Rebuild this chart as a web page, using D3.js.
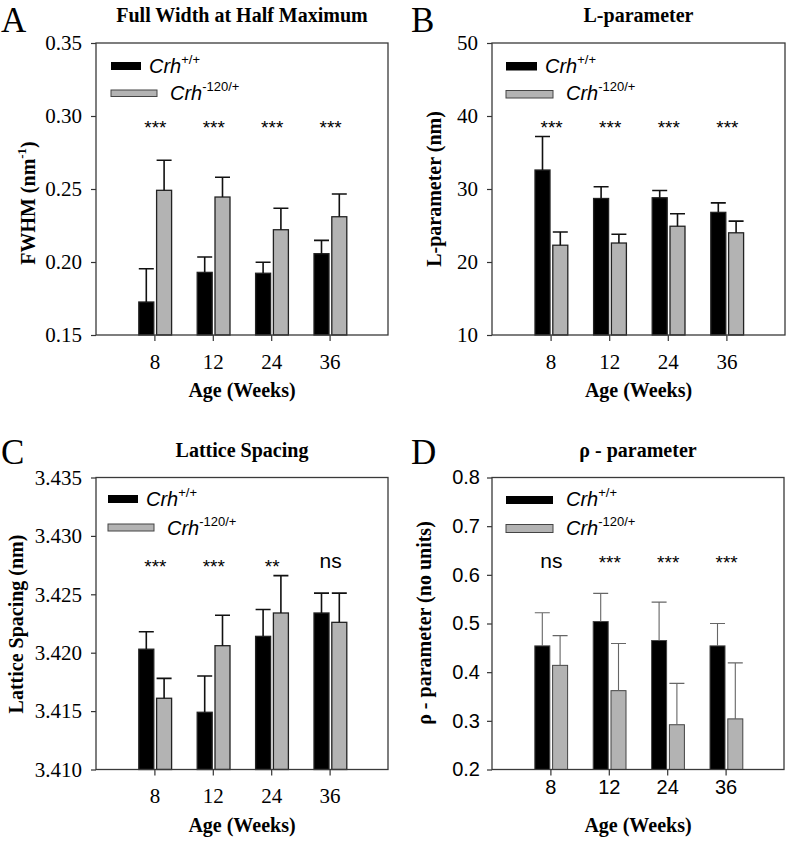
<!DOCTYPE html>
<html>
<head>
<meta charset="utf-8">
<script src="https://d3js.org/d3.v7.min.js"></script>
<style>
body { margin: 0; background: #fff; }
</style>
</head>
<body>
<svg id="fig" width="787" height="842"></svg>
<script>
// ages on the x axis (weeks)
var ages = ['8', '12', '24', '36'];

// A - FWHM (nm^-1), mean and SE
var fwhmWt = [0.1726, 0.1929, 0.1923, 0.2057];
var fwhmWtErr = [0.0228, 0.0105, 0.0075, 0.0091];
var fwhmMut = [0.2491, 0.2445, 0.2221, 0.2310];
var fwhmMutErr = [0.0206, 0.0135, 0.0147, 0.0156];
var fwhmSig = ['***', '***', '***', '***'];
var fwhmTicks = [0.15, 0.20, 0.25, 0.30, 0.35];

// B - L-parameter (nm)
var lparWt = [32.6, 28.7, 28.8, 26.8];
var lparWtErr = [4.6, 1.6, 1.0, 1.3];
var lparMut = [22.3, 22.6, 24.9, 24.0];
var lparMutErr = [1.8, 1.2, 1.7, 1.6];
var lparSig = ['***', '***', '***', '***'];
var lparTicks = [10, 20, 30, 40, 50];

// C - lattice spacing (nm)
var latWt = [3.4203, 3.4149, 3.4214, 3.4234];
var latWtErr = [0.0015, 0.0031, 0.0023, 0.0017];
var latMut = [3.4161, 3.4206, 3.4234, 3.4226];
var latMutErr = [0.0017, 0.0026, 0.0032, 0.0025];
var latSig = ['***', '***', '**', 'ns'];
var latTicks = [3.410, 3.415, 3.420, 3.425, 3.430, 3.435];

// D - rho parameter (no units)
var rhoWt = [0.454, 0.504, 0.465, 0.454];
var rhoWtErr = [0.068, 0.058, 0.079, 0.046];
var rhoMut = [0.414, 0.362, 0.292, 0.304];
var rhoMutErr = [0.061, 0.097, 0.085, 0.115];
var rhoSig = ['ns', '***', '***', '***'];
var rhoTicks = [0.2, 0.3, 0.4, 0.5, 0.6, 0.7, 0.8];

var genotypes = ['+/+', '-120/+'];

var SERIF = '"Liberation Serif", "Times New Roman", serif';
var SANS = '"Liberation Sans", Arial, sans-serif';

var svg = d3.select('#fig');

function drawPanel(p) {
    var g = svg.append('g');
    var x = d3.scaleLinear().domain([0, 5]).range([p.x0, p.x1]);
    var y = d3.scaleLinear().domain([p.ticks[0], p.ticks[p.ticks.length - 1]]).range([p.y1, p.y0]);
    var barW = 15;
    var series = [
        { vals: p.wt, err: p.wtErr, fill: '#000', off: -barW - 0.6 },
        { vals: p.mut, err: p.mutErr, fill: '#b3b3b3', off: 2.2 }
    ];

    // axes
    var yAxis = g.append('g')
        .attr('transform', 'translate(' + p.x0 + ',0)')
        .call(d3.axisLeft(y).tickValues(p.ticks).tickFormat(d3.format(p.fmt)).tickSize(5).tickPadding(p.yPad));
    var xAxis = g.append('g')
        .attr('transform', 'translate(0,' + p.y1 + ')')
        .call(d3.axisBottom(x).tickValues([1, 2, 3, 4]).tickFormat(function (d) { return ages[d - 1]; }).tickSize(6).tickPadding(p.xPad));
    [yAxis, xAxis].forEach(function (a) {
        a.select('.domain').remove();
        a.selectAll('line').attr('stroke', '#333').attr('stroke-width', 1.2);
        a.selectAll('text').attr('font-family', p.tickFont).attr('font-size', p.tickSize).attr('fill', '#000');
    });

    // bars + upper error bars
    series.forEach(function (s, k) {
        g.selectAll('.bar' + k).data(s.vals).enter().append('rect')
            .attr('x', function (d, i) { return x(i + 1) + s.off; })
            .attr('y', function (d) { return y(d); })
            .attr('width', barW)
            .attr('height', function (d) { return y.range()[0] - y(d); })
            .attr('fill', s.fill)
            .attr('stroke', p.barStroke)
            .attr('stroke-width', p.barStrokeW);
        g.selectAll('.err' + k).data(s.vals).enter().append('path')
            .attr('d', function (d, i) {
                var cx = x(i + 1) + s.off + barW / 2;
                var top = y(d + s.err[i]);
                return 'M' + cx + ',' + y(d) + 'V' + top +
                    'M' + (x(i + 1) + s.off) + ',' + top + 'h' + barW;
            })
            .attr('fill', 'none')
            .attr('stroke', p.errStroke)
            .attr('stroke-width', p.errW);
    });

    // significance marks
    g.selectAll('.sig').data(p.sig).enter().append('text')
        .attr('x', function (d, i) { return x(i + 1) + 1; })
        .attr('y', function (d) { return d === 'ns' ? p.y0 + p.nsY : p.y0 + p.starY; })
        .attr('text-anchor', 'middle')
        .attr('font-family', SANS)
        .attr('font-size', function (d) { return d === 'ns' ? 21 : 19; })
        .text(function (d) { return d; });

    // frame
    g.append('rect')
        .attr('x', p.x0).attr('y', p.y0)
        .attr('width', p.x1 - p.x0).attr('height', p.y1 - p.y0)
        .attr('fill', 'none').attr('stroke', '#3a3a3a').attr('stroke-width', 1.3);

    // legend
    var lg = p.legend;
    [0, 1].forEach(function (k) {
        g.append('rect')
            .attr('x', p.x0 + lg.dx)
            .attr('y', p.y0 + lg.rectY[k])
            .attr('width', lg.w[k]).attr('height', lg.h[k])
            .attr('fill', series[k].fill)
            .attr('stroke', k ? '#444' : 'none').attr('stroke-width', 1);
        var t = g.append('text')
            .attr('x', p.x0 + lg.textX[k])
            .attr('y', p.y0 + lg.textY[k])
            .attr('font-family', SANS).attr('font-size', 20);
        t.append('tspan').attr('font-style', 'italic').text('Crh');
        t.append('tspan').attr('font-size', 13).attr('dy', -9).text(genotypes[k]);
    });

    // titles
    var midX = (p.x0 + p.x1) / 2;
    svg.append('text')
        .attr('x', midX).attr('y', p.y0 - 21)
        .attr('text-anchor', 'middle')
        .attr('font-family', SERIF).attr('font-weight', 'bold').attr('font-size', 20)
        .text(p.title);
    svg.append('text')
        .attr('x', midX).attr('y', p.y1 + 62)
        .attr('text-anchor', 'middle')
        .attr('font-family', SERIF).attr('font-weight', 'bold').attr('font-size', 20)
        .text('Age (Weeks)');
    var yl = svg.append('text')
        .attr('transform', 'translate(' + p.yLabelX + ',' + p.yLabelY + ') rotate(-90)')
        .attr('text-anchor', 'middle')
        .attr('font-family', SERIF).attr('font-weight', 'bold').attr('font-size', 20);
    p.yLabel(yl);
    svg.append('text')
        .attr('x', p.letterX).attr('y', p.letterY)
        .attr('font-family', SERIF).attr('font-size', 35)
        .text(p.letter);
}

var legendTop = { dx: 15, rectY: [19, 47], w: [30, 46], h: [8, 6.5], textX: [53, 74], textY: [30, 57] };

drawPanel({
    letter: 'A', letterX: 1, letterY: 32,
    x0: 96, x1: 388, y0: 43, y1: 335,
    ticks: fwhmTicks, fmt: '.2f',
    wt: fwhmWt, wtErr: fwhmWtErr, mut: fwhmMut, mutErr: fwhmMutErr, sig: fwhmSig,
    title: 'Full Width at Half Maximum',
    tickFont: SERIF, tickSize: 21, yPad: 9, xPad: 13,
    barStroke: '#222', barStrokeW: 1.3, errStroke: '#111', errW: 1.6,
    starY: 91, nsY: 91,
    legend: legendTop,
    yLabelX: 35, yLabelY: 203,
    yLabel: function (t) {
        t.append('tspan').text('FWHM (nm');
        t.append('tspan').attr('font-size', 13).attr('dy', -9).text('-1');
        t.append('tspan').attr('dy', 9).text(')');
    }
});

drawPanel({
    letter: 'B', letterX: 411, letterY: 32,
    x0: 492, x1: 785, y0: 43, y1: 335,
    ticks: lparTicks, fmt: 'd',
    wt: lparWt, wtErr: lparWtErr, mut: lparMut, mutErr: lparMutErr, sig: lparSig,
    title: 'L-parameter',
    tickFont: SERIF, tickSize: 21, yPad: 9, xPad: 13,
    barStroke: '#222', barStrokeW: 1.3, errStroke: '#111', errW: 1.6,
    starY: 91, nsY: 91,
    legend: { dx: 14, rectY: [19, 47.5], w: [31, 47], h: [8.5, 7.5], textX: [53, 74], textY: [30, 57] },
    yLabelX: 441, yLabelY: 189,
    yLabel: function (t) { t.text('L-parameter (nm)'); }
});

drawPanel({
    letter: 'C', letterX: 1, letterY: 464,
    x0: 96, x1: 388, y0: 477.5, y1: 769.5,
    ticks: latTicks, fmt: '.3f',
    wt: latWt, wtErr: latWtErr, mut: latMut, mutErr: latMutErr, sig: latSig,
    title: 'Lattice Spacing',
    tickFont: SERIF, tickSize: 21, yPad: 9, xPad: 13,
    barStroke: '#222', barStrokeW: 1.3, errStroke: '#111', errW: 1.6,
    starY: 95, nsY: 90,
    legend: { dx: 12, rectY: [17.5, 46.5], w: [30, 46], h: [8, 7], textX: [50, 71], textY: [28.5, 57.5] },
    yLabelX: 23, yLabelY: 624,
    yLabel: function (t) { t.text('Lattice Spacing (nm)'); }
});

drawPanel({
    letter: 'D', letterX: 411, letterY: 464,
    x0: 492, x1: 784, y0: 477.5, y1: 769.5,
    ticks: rhoTicks, fmt: '.1f',
    wt: rhoWt, wtErr: rhoWtErr, mut: rhoMut, mutErr: rhoMutErr, sig: rhoSig,
    title: 'ρ - parameter',
    tickFont: SANS, tickSize: 20, yPad: 7, xPad: 4,
    barStroke: '#444', barStrokeW: 1, errStroke: '#666', errW: 1.1,
    starY: 91, nsY: 90,
    legend: { dx: 14, rectY: [18.5, 47], w: [47, 47], h: [8, 8], textX: [74, 74], textY: [28.5, 57.5] },
    yLabelX: 431, yLabelY: 623,
    yLabel: function (t) { t.text('ρ - parameter (no units)'); }
});
</script>
</body>
</html>
